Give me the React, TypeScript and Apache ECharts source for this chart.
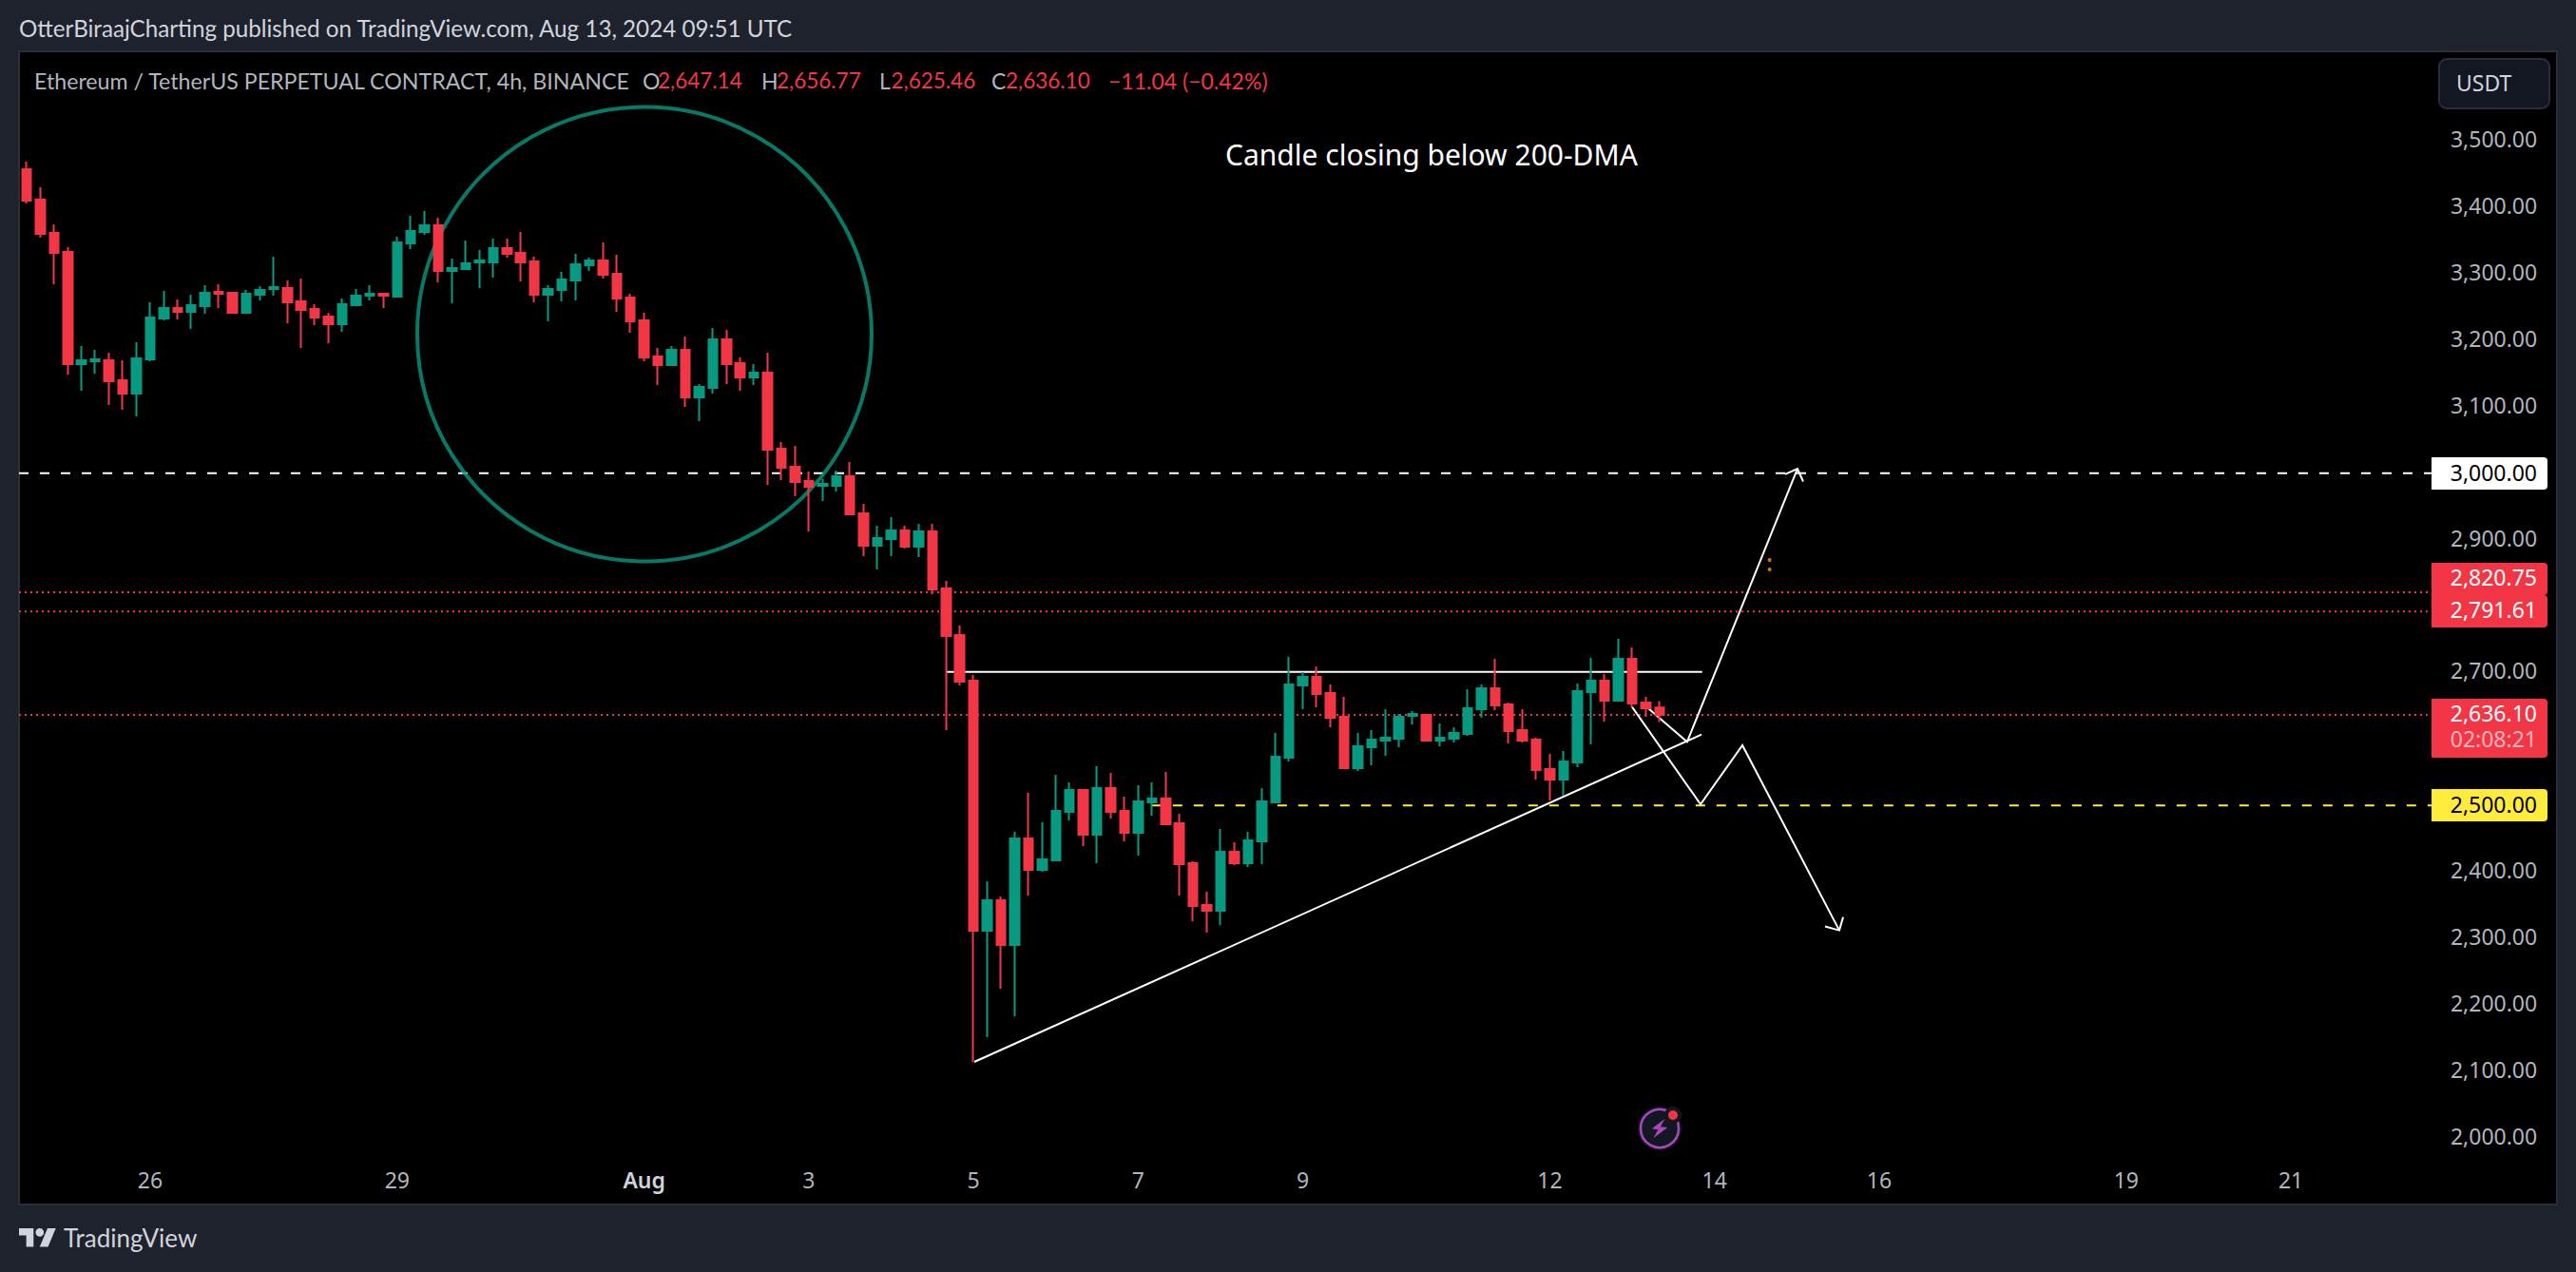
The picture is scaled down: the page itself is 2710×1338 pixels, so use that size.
import React, { useEffect, useRef } from "react";
import * as echarts from "echarts";

const opens = [3457.3,3411.6,3361.5,3332.9,3164,3168.3,3169.8,3139.7,3119.7,3171.2,3232.7,3248.5,3242.7,3251.3,3272.8,3271.3,3241.3,3268.5,3277.1,3278.5,3258.5,3247,3235.6,3224.1,3252.8,3267,3269.9,3265.6,3345.7,3362.9,3373,3304.3,3307.1,3317.2,3317.2,3338.6,3331.5,3318.6,3268.5,3275.7,3290,3312.9,3320,3300,3264.2,3229.9,3175.5,3162.6,3185.5,3114,3128.3,3201.3,3165.5,3144,3151.2,3036.7,3009.5,2988.1,2980.9,2980.9,2995.2,2939.4,2890.8,2900.8,2913.7,2889.4,2912.2,2826.4,2756.3,2687.7,2311.4,2357.2,2290,2450.2,2403,2417.3,2490.3,2523.2,2455.9,2526,2491.7,2458.8,2504.6,2510.3,2473.1,2413,2350,2341.5,2430.2,2413,2445.9,2504.6,2571.8,2680.5,2693.4,2669.1,2633.3,2556,2587.5,2597.5,2600.4,2634.7,2636.2,2597.5,2600.4,2607.6,2644.8,2676.2,2651.9,2613.3,2599,2554.6,2538.9,2564.6,2670.5,2687.7,2657.6,2720.6,2654.8,2647.14];
const closes = [3410.1,3360,3331.4,3164,3169.8,3171.2,3138.3,3119.7,3172.6,3234.2,3248.5,3242.7,3252.8,3271.3,3269.9,3241.3,3269.9,3275.6,3279.9,3257,3245.6,3234.2,3224.1,3254.2,3267,3269.9,3267,3347.2,3364.3,3372.9,3304.3,3308.6,3315.7,3320,3338.6,3330,3317.2,3268.5,3277.1,3291.4,3314.3,3320,3298.6,3262.8,3228.5,3174.1,3162.6,3185.5,3114,3129.7,3201.3,3164.1,3144,3151.2,3035.3,3008.1,2986.6,2979.5,2983.8,2995.2,2938,2890.8,2902.2,2913.7,2889.4,2912.2,2825,2754.9,2686.2,2311.4,2357.2,2290,2450.2,2403,2418.7,2491.7,2523.2,2455.9,2526,2490.3,2458.8,2506,2510.3,2471.7,2411.6,2348.6,2341.5,2430.2,2413,2447.3,2506,2573.2,2682,2693.4,2667.6,2631.9,2556,2589,2599,2601.8,2633.3,2637.6,2597.5,2601.8,2609,2646.2,2676.2,2650.5,2611.9,2597.5,2553.2,2538.9,2566.1,2671.9,2687.7,2657.6,2720.6,2653.3,2646.2,2636.1];
const lows = [3405.8,3354.3,3284.2,3148.3,3124,3149.7,3102.5,3095.4,3085.4,3168.3,3229.8,3231.3,3217,3239.9,3248.5,3239.9,3241,3259.9,3267,3225.6,3188.4,3222.7,3195.5,3212.7,3251.3,3259.9,3248.5,3264.2,3337.2,3358.6,3287.1,3255.6,3307,3278.5,3294.3,3324.3,3288.6,3257.1,3228.5,3258.5,3259.9,3304.3,3292.8,3242.8,3211.3,3168.4,3132.6,3162,3099.7,3078.2,3119.7,3134,3124,3132.6,2982.4,2989.5,2965.2,2912.2,2958,2972.3,2936.6,2875,2855,2875,2886.5,2873.6,2817.8,2613.3,2680.5,2113.5,2151.2,2224.2,2182.7,2364.4,2400.1,2415.9,2477.4,2438.8,2413,2480.2,2445.9,2424.4,2484.5,2470.2,2364.4,2325.7,2308.5,2320,2410.1,2407.3,2411.6,2503.1,2566.1,2644.8,2647.6,2617.6,2556,2551.8,2560.3,2574.7,2587.5,2621.9,2596.1,2588.9,2594.7,2604.7,2631.9,2643.3,2593.3,2594.7,2538.9,2507.4,2514.6,2557.5,2591.8,2626.2,2657.6,2647.6,2633.3,2625.46];
const highs = [3468.8,3430.2,3374.4,3340,3191.2,3185.5,3181.2,3169.8,3197,3257,3274.2,3261.3,3268.5,3282.8,3284.2,3272.8,3275.6,3281.4,3325.7,3289.9,3292.8,3254.2,3241.3,3262.8,3277.1,3282.8,3271.3,3355.8,3387.2,3394.4,3384.4,3322.9,3350.1,3335.8,3352.9,3352.9,3362.9,3325.7,3282.8,3302.9,3330,3324.3,3347.2,3328.6,3270,3241.3,3188.4,3191.3,3205.6,3134,3218.4,3215.6,3174.1,3164.1,3181.2,3046.7,3041,3002.4,2990.9,3003.8,3016.7,2953.7,2920.8,2933.7,2920.8,2923.7,2923.7,2837.8,2770.6,2696.3,2385.8,2362.9,2460.2,2518.9,2474.5,2546,2534.6,2524.6,2558.9,2548.9,2513.1,2530.3,2534.6,2550.3,2487.4,2415.9,2370.1,2464.5,2444.5,2460.2,2526,2609,2723.5,2700.6,2709.1,2682,2663.4,2609,2613.3,2644.8,2637.6,2641.9,2637.6,2623.3,2617.6,2674.8,2682,2720.6,2654.8,2644.8,2601.8,2577.5,2581.8,2683.4,2722,2697.7,2750.6,2737.8,2663.4,2656.77];

const barCount = 184;
const dayBars = [9, 27, 45, 57, 69, 81, 93, 111, 123, 135, 153, 165];
const dayLabels = ["26", "29", "Aug", "3", "5", "7", "9", "12", "14", "16", "19", "21"];

// Drawings, as [bar index, price]
const level3000 = [[-0.554, 3000], [175.24, 3000]];
const level2820 = [[-0.554, 2820.75], [175, 2820.75]];
const level2791 = [[-0.554, 2791.61], [175, 2791.61]];
const level2636 = [[-0.554, 2636.1], [175, 2636.1]];
const level2500 = [[82, 2500], [175.24, 2500]];
const resistance = [[66.98, 2701], [122.1, 2701]];
const risingSupport = [[69.06, 2114], [122.05, 2606.6]];
const bullPath = [[118.1, 2647.2], [121, 2595.6], [129.04, 3006.6]];
const bullHead = [[128.14, 2998.4], [129.04, 3006.6], [129.46, 2987.4]];
const bearPath = [[116.99, 2648.2], [121.98, 2501.7], [125.03, 2590.4], [132.09, 2312]];
const bearHead = [[131.05, 2318], [132.09, 2312], [132.37, 2332]];
const circleCentre = [[45.02, 3209.2]];
const orangeDots = [[127.01, 2869.5], [127.01, 2855]];

const priceTicksHidden = [3000, 2800, 2600, 2500, 3600, 1900];

const UI = "'Noto Sans', sans-serif";
const NARROW = "Lato, sans-serif";
const GREEN = "#089981";
const RED = "#f23645";
const BG = "#1e222d";

const LOGO = "M14 22H7V11H0V4h14v18zM28 22h-8l7.5-18h8L28 22zM24 8a4 4 0 1 1-8 0a4 4 0 1 1 8 0z";
echarts.graphic.registerShape("tvLogo", echarts.graphic.extendPath(LOGO, {}) as any);

const T = (text: string, x: number, y: number, fill: string, size: number, family = NARROW, align = "left", extra: any = {}) => ({
  type: "text",
  z: 20,
  silent: true,
  style: { text, x, y, fill, fontSize: size, fontFamily: family, textAlign: align, textVerticalAlign: "middle", align, verticalAlign: "middle", ...extra },
});

const tag = (y0: number, y1: number, fill: string) => ({
  type: "rect",
  z: 10,
  silent: true,
  shape: { x: 2558, y: y0, width: 122, height: y1 - y0, r: [0, 4, 4, 0] },
  style: { fill },
});

const drawLine = (data: number[][], color: string, lineDash: any = "solid", width = 2, z = 3) => ({
  type: "line",
  xAxisIndex: 1,
  yAxisIndex: 0,
  data,
  z,
  silent: true,
  clip: false,
  symbol: "none",
  showSymbol: false,
  animation: false,
  lineStyle: { color, width, type: lineDash, cap: "butt", join: "miter" },
});

export default function App() {
  const ref = useRef<HTMLDivElement>(null);
  useEffect(() => {
    document.body.style.margin = "0";
    document.body.style.background = BG;
    const chart = echarts.init(ref.current!, undefined, { renderer: "svg" });
    const categories = Array.from({ length: barCount }, (_, i) => {
      const k = dayBars.indexOf(i);
      return k >= 0 ? dayLabels[k] : "";
    });
    const ohlc = opens.map((o, i) => [o, closes[i], lows[i], highs[i]]);
    chart.setOption({
      animation: false,
      backgroundColor: BG,
      grid: { left: 20.78, top: 78.3, width: 2656.4, height: 1188.3, containLabel: false },
      xAxis: [
        {
          type: "category",
          data: categories,
          boundaryGap: true,
          z: 10,
          axisLine: { show: false },
          axisTick: { show: false },
          splitLine: { show: false },
          axisLabel: {
            inside: true,
            interval: 0,
            hideOverlap: false,
            margin: 26,
            verticalAlign: "middle",
            color: "#b2b5be",
            fontFamily: UI,
            fontSize: 23,
            formatter: (v: string) => (v === "Aug" ? "{m|Aug}" : v),
            rich: { m: { color: "#d1d4dc", fontFamily: UI, fontSize: 23, fontWeight: 600 } },
          },
        },
        { type: "value", min: -0.5, max: 183.5, show: false, gridIndex: 0, position: "top" },
      ],
      yAxis: [
        {
          type: "value",
          position: "right",
          min: 1900,
          max: 3600,
          interval: 100,
          z: 10,
          axisLine: { show: false },
          axisTick: { show: false },
          splitLine: { show: false },
          axisLabel: {
            inside: true,
            margin: 8,
            showMinLabel: false,
            showMaxLabel: false,
            color: "#b2b5be",
            fontFamily: UI,
            fontSize: 23,
            formatter: (v: number) =>
              priceTicksHidden.includes(v)
                ? ""
                : "{p|" + v.toLocaleString("en-US", { minimumFractionDigits: 2, maximumFractionDigits: 2 }) + "}",
            rich: { p: { color: "#b2b5be", fontFamily: UI, fontSize: 23, padding: [0, 0, 4, 0] } },
          },
        },
      ],
      series: [
        {
          type: "scatter",
          xAxisIndex: 1,
          yAxisIndex: 0,
          data: circleCentre,
          z: 3,
          silent: true,
          clip: false,
          symbol: "circle",
          symbolSize: 478,
          itemStyle: { color: "rgba(0,0,0,0)", borderColor: GREEN, borderWidth: 4 },
        },
        drawLine(level3000, "#ffffff", [10, 12]),
        drawLine(level2820, RED, [2, 4]),
        drawLine(level2791, RED, [2, 4]),
        drawLine(level2636, RED, [2, 4]),
        drawLine(level2500, "#ffeb3b", [10, 12]),
        drawLine(resistance, "#ffffff"),
        drawLine(risingSupport, "#ffffff"),
        drawLine(bullPath, "#ffffff"),
        drawLine(bullHead, "#ffffff"),
        drawLine(bearPath, "#ffffff"),
        drawLine(bearHead, "#ffffff"),
        {
          type: "scatter",
          xAxisIndex: 1,
          yAxisIndex: 0,
          data: orangeDots,
          z: 4,
          silent: true,
          symbolSize: 4,
          itemStyle: { color: "#ff9800" },
        },
        {
          type: "candlestick",
          xAxisIndex: 0,
          yAxisIndex: 0,
          data: ohlc,
          z: 5,
          silent: true,
          barWidth: 10,
          itemStyle: { color: GREEN, color0: RED, borderColor: GREEN, borderColor0: RED, borderWidth: 2 },
        },
      ],
      graphic: {
        elements: [
          { type: "rect", z: -10, silent: true, shape: { x: 20, y: 54, width: 2670, height: 1213 }, style: { fill: "#000000", stroke: "#2a2e39", lineWidth: 2 } },
          T("OtterBiraajCharting published on TradingView.com, Aug 13, 2024 09:51 UTC", 20, 29.5, "#d1d4dc", 24.2),
          T("Ethereum / TetherUS PERPETUAL CONTRACT, 4h, BINANCE", 36, 84.5, "#b2b5be", 23.2),
          T("O", 676, 84.5, "#b2b5be", 23),
          T("2,647.14", 692, 84.5, RED, 22.5),
          T("H", 801, 84.5, "#b2b5be", 23),
          T("2,656.77", 817, 84.5, RED, 22.5),
          T("L", 925, 84.5, "#b2b5be", 23),
          T("2,625.46", 937.5, 84.5, RED, 22.5),
          T("C", 1043, 84.5, "#b2b5be", 23),
          T("2,636.10", 1058, 84.5, RED, 22.5),
          T("\u221211.04 (\u22120.42%)", 1166, 84.5, RED, 23),
          T("Candle closing below 200-DMA", 1289, 162, "#ffffff", 30, UI),
          { type: "rect", z: 10, silent: true, shape: { x: 2566, y: 62, width: 116, height: 52, r: 8 }, style: { fill: "#131722", stroke: "#2a2e39", lineWidth: 2 } },
          T("USDT", 2584, 87, "#d1d4dc", 23, UI),
          tag(481, 515, "#ffffff"),
          T("3,000.00", 2669, 497, "#000000", 23, UI, "right"),
          tag(592, 626, RED),
          tag(626, 660, RED),
          T("2,820.75", 2669, 607, "#ffffff", 23, UI, "right"),
          T("2,791.61", 2669, 641, "#ffffff", 23, UI, "right"),
          tag(735, 797, RED),
          T("2,636.10", 2669, 750, "#ffffff", 23, UI, "right"),
          T("02:08:21", 2669, 777, "rgba(255,255,255,0.65)", 23, UI, "right"),
          tag(830, 864, "#ffeb3b"),
          T("2,500.00", 2669, 846, "#000000", 23, UI, "right"),
          { type: "tvLogo", z: 10, silent: true, x: 20, y: 1287.6, scaleX: 1.09, scaleY: 1.09, style: { fill: "#d1d4dc" } },
          T("TradingView", 67, 1302, "#d1d4dc", 26, NARROW),
          { type: "circle", z: 10, silent: true, shape: { cx: 1746, cy: 1187, r: 23 }, style: { fill: "#131722" } },
          { type: "circle", z: 11, silent: true, shape: { cx: 1746, cy: 1187, r: 20 }, style: { fill: "#131722", stroke: "#ab47bc", lineWidth: 2.5 } },
          { type: "polygon", z: 12, silent: true, shape: { points: [[1751.7, 1176.7], [1737.7, 1187.3], [1744.3, 1188.3], [1739.3, 1197.3], [1754.3, 1186], [1746.7, 1185.3]] }, style: { fill: "#ab47bc" } },
          { type: "circle", z: 13, silent: true, shape: { cx: 1760, cy: 1173, r: 9 }, style: { fill: "#131722" } },
          { type: "circle", z: 14, silent: true, shape: { cx: 1760, cy: 1173, r: 5 }, style: { fill: RED } },
        ],
      },
    });
    return () => chart.dispose();
  }, []);
  return <div ref={ref} style={{ position: "absolute", left: 0, top: 0, width: 2710, height: 1338 }} />;
}
